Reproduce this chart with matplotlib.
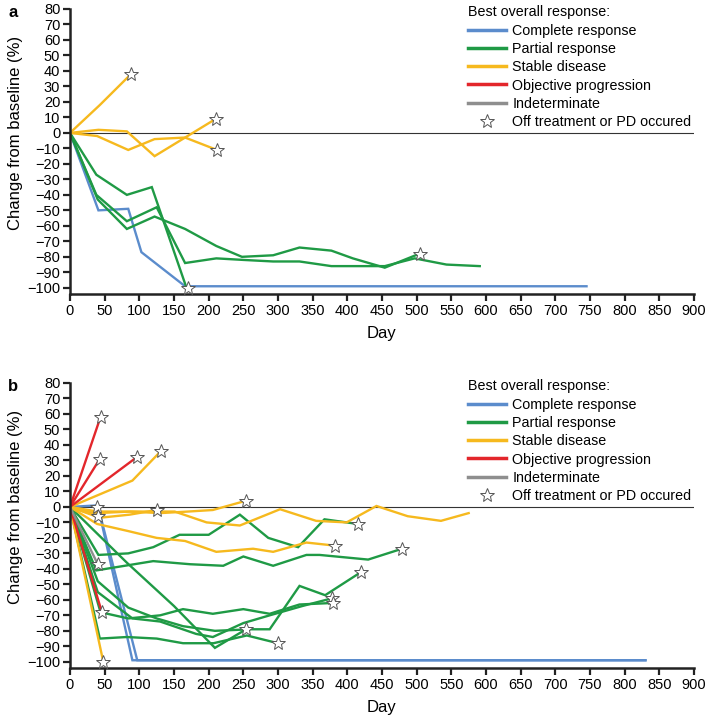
import matplotlib
matplotlib.use('Agg')
import matplotlib.pyplot as plt
from matplotlib.lines import Line2D

plt.rcParams['font.family'] = ['Liberation Sans', 'DejaVu Sans']

# colours per best overall response
c_blue = '#5b8ccc'
c_green = '#1f9a45'
c_yellow = '#f6b91e'
c_red = '#e3262b'
c_gray = '#8e8e8e'

# ---------------- panel a ----------------
a_blue_days = [[0, 41, 84, 103, 166, 745]]
a_blue_vals = [[0, -50, -49, -77, -99, -99]]

a_green_days = [[0, 38, 82, 118, 168],
                [0, 38, 82, 125, 166, 211, 250, 293, 331, 377, 454, 497, 543, 591],
                [0, 40, 82, 122, 166, 211, 248, 293, 331, 377, 408, 454, 504]]
a_green_vals = [[0, -27, -40, -35, -100],
                [0, -40, -57, -48, -84, -81, -82, -83, -83, -86, -86, -81, -85, -86],
                [0, -43, -62, -54, -62, -73, -80, -79, -74, -76, -81, -87, -78]]

a_yellow_days = [[0, 43, 88],
                 [0, 41, 82, 122, 210],
                 [0, 39, 84, 122, 166, 212]]
a_yellow_vals = [[0, 18, 38],
                 [0, 2, 1, -15, 9],
                 [0, -2, -11, -4, -3, -11]]

a_star_days = [88, 210, 212, 170, 505]
a_star_vals = [38, 9, -11, -100, -78]

# ---------------- panel b ----------------
b_blue_days = [[0, 40, 90, 830],
               [0, 44, 97, 830]]
b_blue_vals = [[0, 1, -99, -99],
               [0, -6, -99, -99]]

b_green_days = [[0, 41, 84, 120, 158, 200, 245, 286, 329, 367, 415],
                [0, 38, 120, 173, 221, 250, 293, 341, 360, 430, 479],
                [0, 82, 150, 209, 254],
                [0, 43, 82, 125, 163, 207, 255, 300],
                [0, 40, 84, 125, 163, 209, 260, 288, 331, 368, 420],
                [0, 44, 84, 130, 163, 206, 250, 288, 331, 379],
                [0, 40, 90, 130, 182, 206, 250, 288, 335, 378]]
b_green_vals = [[0, -31, -30, -26, -18, -18, -5, -20, -26, -8, -11],
                [0, -41, -35, -37, -38, -32, -38, -31, -31, -34, -27],
                [0, -36, -64, -91, -79],
                [0, -85, -84, -85, -88, -88, -83, -88],
                [0, -48, -65, -72, -77, -80, -79, -79, -51, -57, -42],
                [0, -68, -72, -70, -66, -69, -66, -69, -63, -62],
                [0, -55, -72, -74, -82, -84, -75, -70, -64, -59]]

b_yellow_days = [[0, 90, 131],
                 [0, 48],
                 [0, 41],
                 [0, 43, 86, 125],
                 [0, 40, 86, 130, 170, 206, 254],
                 [0, 40, 125, 151, 197, 245, 303, 355, 399, 442, 487, 535, 575],
                 [0, 39, 83, 125, 166, 211, 264, 293, 341, 382]]
b_yellow_vals = [[0, 17, 36],
                 [0, -100],
                 [0, -6],
                 [0, -7, -5, -2],
                 [0, -4, -3, -4, -3, -2, 4],
                 [0, -3, -3, -3, -10, -12, -1.5, -9, -10, 0.6, -6, -9, -4],
                 [0, -11, -15.5, -20, -22, -29, -27, -29, -23, -25]]

b_red_days = [[0, 44], [0, 43], [0, 96], [0, 46]]
b_red_vals = [[0, 58], [0, 31], [0, 32], [0, -68]]

b_gray_days = [[0, 40]]
b_gray_vals = [[0, -37]]

b_star_days = [44, 43, 96, 131, 39, 41, 40, 46, 48, 125, 254, 415, 479, 382, 420, 378, 379, 254, 300]
b_star_vals = [58, 31, 32, 36, 0, -6, -37, -68, -100, -2, 4, -11, -27, -25, -42, -59, -62, -79, -88]

legend_labels = ['Complete response', 'Partial response', 'Stable disease',
                 'Objective progression', 'Indeterminate', 'Off treatment or PD occured']

x_ticks = list(range(0, 901, 50))
y_ticks = list(range(-100, 81, 10))

W, H = 709, 724
fig = plt.figure(figsize=(W / 100, H / 100), dpi=100)


def draw_panel(ax, groups, star_days, star_vals, letter):
    ax.axhline(0, color='#333333', lw=0.8, zorder=1)
    for days_list, vals_list, col in groups:
        for d, v in zip(days_list, vals_list):
            ax.plot(d, v, color=col, lw=1.7, solid_joinstyle='miter', zorder=2)
    ax.plot(star_days, star_vals, linestyle='None', marker='*', markersize=10,
            markerfacecolor='white', markeredgecolor='#555555', markeredgewidth=0.7, zorder=4)
    ax.set_xlim(0, 900)
    ax.set_ylim(-104, 80)
    ax.set_xticks(x_ticks)
    ax.set_yticks(y_ticks)
    ax.tick_params(direction='out', length=5, width=1.6, labelsize=10.5, pad=2, color='#222222')
    for s in ['top', 'right']:
        ax.spines[s].set_visible(False)
    for s in ['left', 'bottom']:
        ax.spines[s].set_linewidth(1.8)
        ax.spines[s].set_color('#222222')
    ax.set_xlabel('Day', fontsize=12, labelpad=6)
    ax.set_ylabel('Change from baseline (%)', fontsize=12)
    ax.yaxis.set_label_coords(-0.075, 0.565)
    handles = [Line2D([], [], color=c, lw=2.5) for c in [c_blue, c_green, c_yellow, c_red, c_gray]]
    handles.append(Line2D([], [], linestyle='None', marker='*', markersize=10,
                          markerfacecolor='white', markeredgecolor='#555555', markeredgewidth=0.7))
    ax.legend(handles, legend_labels, title='Best overall response:', loc='upper right',
              bbox_to_anchor=(1.012, 1.048), frameon=False, fontsize=10.3, title_fontsize=10.3,
              handlelength=2.65, handletextpad=0.45, labelspacing=0.3, alignment='left',
              borderpad=0.2)
    fig.text(ax.get_position().x0 - 0.087, ax.get_position().y1 + 0.006, letter,
             fontsize=12, fontweight='bold', va='top')


ax_a = fig.add_axes([70 / W, 1 - 294 / H, 624 / W, 285 / H])
draw_panel(ax_a,
           [(a_blue_days, a_blue_vals, c_blue),
            (a_green_days, a_green_vals, c_green),
            (a_yellow_days, a_yellow_vals, c_yellow)],
           a_star_days, a_star_vals, 'a')

ax_b = fig.add_axes([70 / W, 1 - 668 / H, 624 / W, 285 / H])
draw_panel(ax_b,
           [(b_blue_days, b_blue_vals, c_blue),
            (b_green_days, b_green_vals, c_green),
            (b_yellow_days, b_yellow_vals, c_yellow),
            (b_red_days, b_red_vals, c_red),
            (b_gray_days, b_gray_vals, c_gray)],
           b_star_days, b_star_vals, 'b')

fig.savefig('out.png', dpi=100)
